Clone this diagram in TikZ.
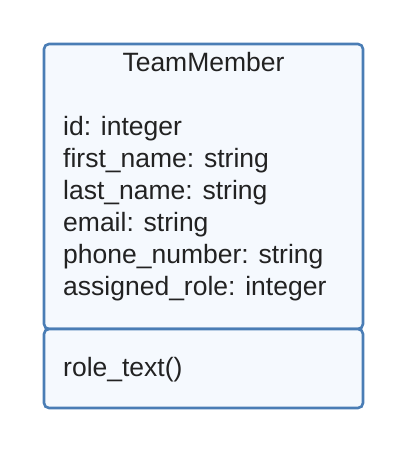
\documentclass[tikz,border=0pt]{standalone}
\usepackage{fontspec}
\setmainfont{Liberation Sans}
\definecolor{umlborder}{HTML}{4A7DB5}
\definecolor{umlfill}{HTML}{F5F9FE}
\definecolor{umltext}{HTML}{222222}
\begin{document}
\begin{tikzpicture}[x=1pt,y=-1pt,
  compart/.style={draw=umlborder,fill=umlfill,line width=2.6pt,rounded corners=5pt},
  lbl/.style={inner sep=0pt,anchor=base west,text=umltext,font=\fontsize{26.5}{32}\selectfont}]
\useasboundingbox (0,0) rectangle (405,467);
\draw[compart] (44,44) rectangle (363,329);
\draw[compart] (44,329) rectangle (363,408);
\node[lbl,anchor=base] (title) at (203.5,71) {TeamMember};
\node[lbl] (a1) at (63,135) {id: integer};
\node[lbl] (a2) at (63,167) {first\_name: string};
\node[lbl] (a3) at (63,199) {last\_name: string};
\node[lbl] (a4) at (63,231) {email: string};
\node[lbl] (a5) at (63,263) {phone\_number: string};
\node[lbl] (a6) at (63,295) {assigned\_role: integer};
\node[lbl] (m1) at (63,376) {role\_text()};
\end{tikzpicture}
\end{document}
